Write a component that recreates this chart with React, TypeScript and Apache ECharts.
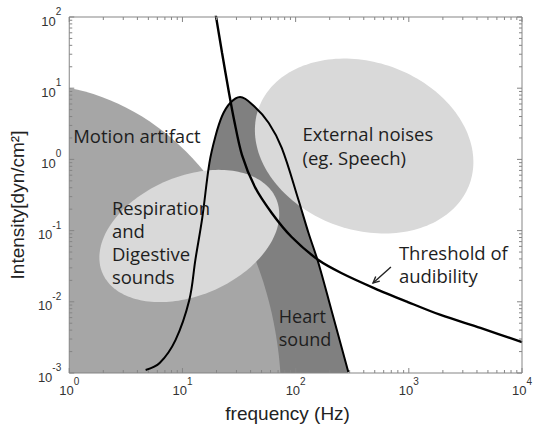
import React, { useEffect, useRef } from "react";
import * as echarts from "echarts";

// Axis ranges
const X_MIN = 1;
const X_MAX = 10000;
const Y_MIN = 0.001;
const Y_MAX = 100;

// Heart sound envelope: frequency (Hz) / intensity (dyn/cm²)
const heartFreq = [4.73, 6.29, 8.68, 11.5, 13.0, 15.0, 17.3, 19.5, 22.4, 26.4, 32.3, 43.7, 57.9, 75.4, 106, 130, 159, 207, 292];
const heartInt = [0.0011, 0.00138, 0.0029, 0.0106, 0.0386, 0.155, 0.889, 2.07, 4.07, 6.2, 7.52, 5.44, 3.24, 1.45, 0.269, 0.0925, 0.0351, 0.00767, 0.00103];

// Threshold of audibility
const thresholdFreq = [19.2, 19.9, 22.4, 25.8, 28.6, 33.6, 43.7, 61.5, 92.2, 159, 253, 493, 980, 1910, 4290, 10000];
const thresholdInt = [134, 96.8, 31.2, 8.57, 3.58, 1.15, 0.409, 0.177, 0.0813, 0.0386, 0.0254, 0.0156, 0.00993, 0.00653, 0.00429, 0.00272];

// Elliptical regions (in log-log space): centre, end of major semi-axis, minor/major ratio
const regionNames = ["Motion artifact", "Respiration and Digestive sounds", "External noises"];
const regionCenterFreq = [0.483, 11.5, 403];
const regionCenterInt = [0.000418, 0.084, 1.54];
const regionAxisEndFreq = [0.483, 67.3, 3450];
const regionAxisEndInt = [11.2, 0.279, 0.456];
const regionAxisRatio = [0.786, 0.63, 0.748];

// Annotation texts and their anchors (left edge, vertical middle of the block)
const labelTexts = ["Motion artifact", "External noises\n(eg. Speech)", "Respiration\nand\nDigestive\nsounds", "Heart\nsound", "Threshold of\naudibility"];
const labelFreq = [1.084, 115, 2.38, 71.0, 817];
const labelInt = [2.2, 1.59, 0.0692, 0.00436, 0.0345];
const labelLineHeights = [24, 24, 23.3, 22.8, 23];
const labelFontSizes = [18.5, 18.5, 18.5, 18, 18.5];

// Arrow pointing at threshold curve: tail -> head
const arrowTail = [695, 0.0308];
const arrowHead = [483, 0.01837];

// Tick values
const xMajorTicks = [1, 10, 100, 1000, 10000];
const yMajorTicks = [0.001, 0.01, 0.1, 1, 10, 100];
const minorMultipliers = [2, 3, 4, 5, 6, 7, 8, 9];

const REGION_FILLS = ["#a6a6a6", "#d9d9d9", "#d9d9d9"];
const HEART_FILL = "#808080";
const FRAME = "#858585";

function minorOf(majors: number[]) {
  const out: number[] = [];
  for (let i = 0; i < majors.length - 1; i++) {
    for (const m of minorMultipliers) out.push(majors[i] * m);
  }
  return out;
}

export default function App() {
  const ref = useRef<HTMLDivElement>(null);

  useEffect(() => {
    if (!ref.current) return;
    const chart = echarts.init(ref.current, undefined, { renderer: "svg" });

    const heartData = heartFreq.map((f, i) => [f, heartInt[i]]);
    const thresholdData = thresholdFreq.map((f, i) => [f, thresholdInt[i]]);
    const regionRows = regionNames.map((_, i) => [
      regionCenterFreq[i],
      regionCenterInt[i],
      regionAxisEndFreq[i],
      regionAxisEndInt[i],
      regionAxisRatio[i],
    ]);
    const labelRows = labelTexts.map((_, i) => [labelFreq[i], labelInt[i]]);

    const tickRows: number[][] = [];
    xMajorTicks.forEach((v) => tickRows.push([v, Y_MIN, 0, 1]));
    minorOf(xMajorTicks).forEach((v) => tickRows.push([v, Y_MIN, 0, 0]));
    yMajorTicks.forEach((v) => tickRows.push([X_MIN, v, 1, 1]));
    minorOf(yMajorTicks).forEach((v) => tickRows.push([X_MIN, v, 1, 0]));
    tickRows.push([X_MIN, Y_MIN, 2, 0]); // frame

    const expFormatter = (v: number) => {
      const e = Math.round(Math.log10(v));
      return `{b|10}{s|${e}}`;
    };
    const richLabel = {
      b: { fontSize: 13, fontFamily: "Liberation Sans", color: "#333", verticalAlign: "bottom", lineHeight: 21 },
      s: { fontSize: 10, fontFamily: "Liberation Sans", color: "#333", verticalAlign: "top" },
    };

    const smoothness = 0.35;

    chart.setOption({
      animation: false,
      backgroundColor: "#ffffff",
      grid: {
        left: 66,
        top: 17,
        right: 14,
        bottom: 55,
        show: false,
      },
      xAxis: {
        type: "log",
        logBase: 10,
        min: X_MIN,
        max: X_MAX,
        axisLine: { show: false },
        axisTick: { show: false },
        splitLine: { show: false },
        axisLabel: { formatter: expFormatter, rich: richLabel, margin: 3 },
        name: "frequency (Hz)",
        nameLocation: "middle",
        nameGap: 31,
        nameTextStyle: { fontSize: 19, fontFamily: "Liberation Sans", color: "#222", padding: [0, 16, 0, 0] },
      },
      yAxis: {
        type: "log",
        logBase: 10,
        min: Y_MIN,
        max: Y_MAX,
        axisLine: { show: false },
        axisTick: { show: false },
        splitLine: { show: false },
        axisLabel: { formatter: expFormatter, rich: richLabel, margin: 8 },
        name: "Intensity[dyn/cm²]",
        nameLocation: "middle",
        nameGap: 32,
        nameRotate: 90,
        nameTextStyle: { fontSize: 19, fontFamily: "Liberation Sans", color: "#222", padding: [0, 20, 0, 0] },
      },
      series: [
        {
          type: "line",
          name: "Heart sound area",
          data: heartData,
          smooth: smoothness,
          symbol: "none",
          lineStyle: { opacity: 0, width: 0 },
          areaStyle: { color: HEART_FILL, opacity: 1, origin: "start" },
          z: 2,
          silent: true,
        },
        {
          type: "custom",
          name: "Regions",
          data: regionRows,
          clip: true,
          z: 3,
          silent: true,
          renderItem: (params: any, api: any) => {
            const c = api.coord([api.value(0), api.value(1)]);
            const e = api.coord([api.value(2), api.value(3)]);
            const ratio = api.value(4);
            const dx = e[0] - c[0];
            const dy = e[1] - c[1];
            const a = Math.hypot(dx, dy);
            const b = a * ratio;
            const ca = dx / a;
            const sa = dy / a;
            const pts: number[][] = [];
            const N = 180;
            for (let k = 0; k < N; k++) {
              const t = (k / N) * Math.PI * 2;
              const u = a * Math.cos(t);
              const w = b * Math.sin(t);
              pts.push([c[0] + u * ca - w * sa, c[1] + u * sa + w * ca]);
            }
            const cs = params.coordSys;
            return {
              type: "group",
              clipPath: { type: "rect", shape: { x: cs.x, y: cs.y, width: cs.width, height: cs.height } },
              children: [
                {
                  type: "polygon",
                  shape: { points: pts },
                  style: { fill: REGION_FILLS[params.dataIndex] },
                },
              ],
            };
          },
        },
        {
          type: "line",
          name: "Heart sound",
          data: heartData,
          smooth: smoothness,
          symbol: "none",
          lineStyle: { color: "#000", width: 2 },
          z: 5,
          silent: true,
        },
        {
          type: "line",
          name: "Threshold of audibility",
          data: thresholdData,
          smooth: 0.3,
          symbol: "none",
          lineStyle: { color: "#000", width: 2.4 },
          z: 5,
          silent: true,
        },
        {
          type: "custom",
          name: "Labels",
          data: labelRows,
          z: 6,
          silent: true,
          renderItem: (params: any, api: any) => {
            const p = api.coord([api.value(0), api.value(1)]);
            return {
              type: "text",
              x: p[0],
              y: p[1],
              style: {
                text: labelTexts[params.dataIndex],
                fill: "#1e1e1e",
                fontSize: labelFontSizes[params.dataIndex],
                lineHeight: labelLineHeights[params.dataIndex],
                fontFamily: "Open Sans",
                align: "left",
                verticalAlign: "middle",
              },
            };
          },
        },
        {
          type: "custom",
          name: "Arrow",
          data: [[arrowTail[0], arrowTail[1], arrowHead[0], arrowHead[1]]],
          z: 6,
          silent: true,
          renderItem: (params: any, api: any) => {
            const p0 = api.coord([api.value(0), api.value(1)]);
            const p1 = api.coord([api.value(2), api.value(3)]);
            const ang = Math.atan2(p0[1] - p1[1], p0[0] - p1[0]);
            const L = 7;
            const h1 = [p1[0] + L * Math.cos(ang + 0.45), p1[1] + L * Math.sin(ang + 0.45)];
            const h2 = [p1[0] + L * Math.cos(ang - 0.45), p1[1] + L * Math.sin(ang - 0.45)];
            return {
              type: "group",
              children: [
                { type: "line", shape: { x1: p0[0], y1: p0[1], x2: p1[0], y2: p1[1] }, style: { stroke: "#222", lineWidth: 1.4 } },
                { type: "polyline", shape: { points: [h1, p1, h2] }, style: { stroke: "#222", lineWidth: 1.4, fill: null } },
              ],
            };
          },
        },
        {
          type: "custom",
          name: "Ticks",
          data: tickRows,
          z: 8,
          silent: true,
          renderItem: (params: any, api: any) => {
            const kind = api.value(2);
            const major = api.value(3) === 1;
            const len = major ? 5 : 3;
            const st = { stroke: FRAME, lineWidth: 1 };
            if (kind === 2) {
              const tl = api.coord([X_MIN, Y_MAX]);
              const br = api.coord([X_MAX, Y_MIN]);
              return {
                type: "rect",
                shape: { x: tl[0], y: tl[1], width: br[0] - tl[0], height: br[1] - tl[1] },
                style: { stroke: FRAME, lineWidth: 1, fill: null },
              };
            }
            if (kind === 0) {
              const v = api.value(0);
              const b = api.coord([v, Y_MIN]);
              const t = api.coord([v, Y_MAX]);
              return {
                type: "group",
                children: [
                  { type: "line", shape: { x1: b[0], y1: b[1], x2: b[0], y2: b[1] - len }, style: st },
                  { type: "line", shape: { x1: t[0], y1: t[1], x2: t[0], y2: t[1] + len }, style: st },
                ],
              };
            }
            const v = api.value(1);
            const l = api.coord([X_MIN, v]);
            const r = api.coord([X_MAX, v]);
            return {
              type: "group",
              children: [
                { type: "line", shape: { x1: l[0], y1: l[1], x2: l[0] + len, y2: l[1] }, style: st },
                { type: "line", shape: { x1: r[0], y1: r[1], x2: r[0] - len, y2: r[1] }, style: st },
              ],
            };
          },
        },
      ],
    });

    return () => {
      chart.dispose();
    };
  }, []);

  return (
    <div
      ref={ref}
      style={{ position: "fixed", left: 0, top: 0, width: 536, height: 428, background: "#fff" }}
    />
  );
}
